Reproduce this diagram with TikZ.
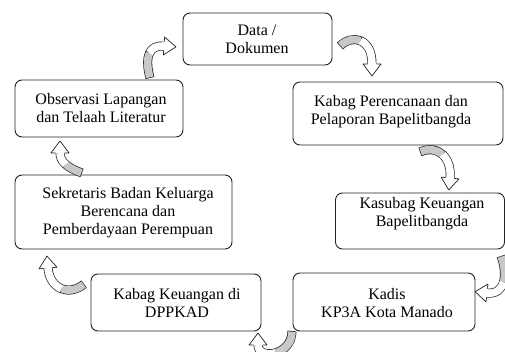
\documentclass[tikz,border=0pt]{standalone}
\usepackage{fontspec}
\setmainfont{Liberation Serif}
\usetikzlibrary{calc}
\definecolor{band}{HTML}{C8C8C8}
\definecolor{ln}{HTML}{222222}
\newcommand\carrow[4]{%
\coordinate (p0) at #1; \coordinate (p1) at #2; \coordinate (p2) at #3; \coordinate (p3) at #4;
\coordinate (m01) at ($(p0)!.5!(p1)$);
\coordinate (m12) at ($(p1)!.5!(p2)$);
\coordinate (m23) at ($(p2)!.5!(p3)$);
\coordinate (qa) at ($(m01)!.5!(m12)$);
\coordinate (qb) at ($(m12)!.5!(m23)$);
\coordinate (qc) at ($(qa)!.5!(qb)$);
\draw[ln, line width=9pt] (p0) .. controls (p1) and (p2) .. (p3);
\draw[band, line width=7.6pt, shorten <=0.7pt] (p0) .. controls (m01) and (qa) .. (qc);
\draw[white, line width=7.6pt] (qc) .. controls (qb) and (m23) .. (p3);
\coordinate (ap) at ($(p3)!-12pt!(p2)$);
\coordinate (tl) at ($(p3)!9pt!90:(p2)$);
\coordinate (tr) at ($(p3)!9pt!-90:(p2)$);
\coordinate (sl) at ($(p3)!4.5pt!90:(p2)$);
\coordinate (sr) at ($(p3)!4.5pt!-90:(p2)$);
\fill[white] (tl) -- (ap) -- (tr) -- cycle;
\draw[ln, line width=0.7pt, line join=round] (sl) -- (tl) -- (ap) -- (tr) -- (sr);
}
\tikzset{
  box/.style={draw=ln, line width=0.9pt, rounded corners=7pt, fill=white},
  txt/.style={align=center, font=\fontsize{16pt}{18pt}\selectfont, inner sep=0pt}
}
\begin{document}
\begin{tikzpicture}[x=1pt, y=-1pt]
\useasboundingbox (0,0) rectangle (505,352);
% boxes
\node[box, minimum width=149pt, minimum height=52pt] (data) at (257.5,39) {};
\node[box, minimum width=168pt, minimum height=57pt] (obs) at (99,108.5) {};
\node[box, minimum width=210pt, minimum height=63pt] (kabp) at (398,113.5) {};
\node[box, minimum width=217pt, minimum height=74pt] (sek) at (123.5,212) {};
\node[box, minimum width=169pt, minimum height=56pt] (kasub) at (420,221) {};
\node[box, minimum width=182pt, minimum height=58pt] (kadis) at (384,302) {};
\node[box, minimum width=170pt, minimum height=57pt] (kabk) at (176,302.5) {};
% texts
\node[txt] (tdata) at (257,39) {Data /\\Dokumen};
\node[txt] (tobs) at (101,108.5) {Observasi Lapangan\\dan Telaah Literatur};
\node[txt] (tkabp) at (391,111.5) {Kabag Perencanaan dan\\Pelaporan Bapelitbangda};
\node[txt] (tsek) at (128,213) {Sekretaris Badan Keluarga\\Berencana dan\\Pemberdayaan Perempuan};
\node[txt] (tkasub) at (422,214) {Kasubag Keuangan\\Bapelitbangda};
\node[txt] (tkadis) at (387,303) {Kadis\\KP3A Kota Manado};
\node[txt] (tkabk) at (177,303) {Kabag Keuangan di\\DPPKAD};
% curved arrows
\carrow{(150,78)}{(144,55)}{(150,45)}{(164,46)}
\carrow{(340,46)}{(352,34)}{(372,38)}{(372,64)}
\carrow{(420,152)}{(438,144)}{(452,158)}{(450,178)}
\carrow{(501,256)}{(508,275)}{(505,295)}{(487,293)}
\carrow{(292,331)}{(292,356)}{(258,360)}{(258,345)}
\carrow{(84,284)}{(70,296)}{(50,290)}{(48,268)}
\carrow{(82,173)}{(68,168)}{(60,162)}{(60,153)}
\end{tikzpicture}
\end{document}
